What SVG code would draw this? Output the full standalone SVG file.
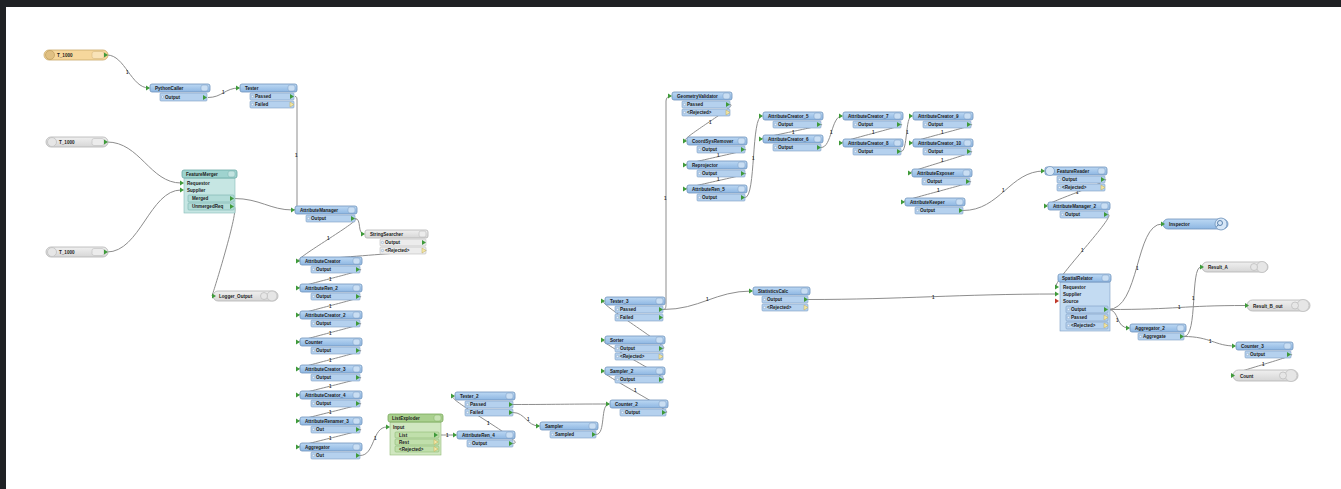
<svg xmlns="http://www.w3.org/2000/svg" width="1341" height="489" viewBox="0 0 1341 489">
<defs>
<linearGradient id="gb" x1="0" y1="0" x2="0" y2="1"><stop offset="0" stop-color="#bcd8f3"/><stop offset="1" stop-color="#8db6e2"/></linearGradient>
<linearGradient id="gg" x1="0" y1="0" x2="0" y2="1"><stop offset="0" stop-color="#f0f0f0"/><stop offset="1" stop-color="#d6d6d6"/></linearGradient>
<path id="pin" d="M0,-2.5 L4,0 L0,2.5 Z" fill="#3f9a3a"/>
<path id="piny" d="M0,-2.5 L4,0 L0,2.5 Z" fill="#f3e7a8" stroke="#c2ad55" stroke-width="0.5"/>
<path id="pinr" d="M0,-2.5 L4,0 L0,2.5 Z" fill="#c0392b"/>
</defs>
<style>
.hb{fill:url(#gb);stroke:#6f93bb;stroke-width:0.8}
.bt{fill:#c9def3;stroke:#7f9fc4;stroke-width:0.5}
.rb{fill:#b5d1ee;stroke:#7e9fc4;stroke-width:0.6}
.rm{fill:#e8f1fb;stroke:#6f8fb5;stroke-width:0.4}
.hg{fill:url(#gg);stroke:#b3b3b3;stroke-width:0.8}
.rg{fill:#ececec;stroke:#bdbdbd;stroke-width:0.6}
.ic{fill:#e6e6e6;stroke:#bfbfbf;stroke-width:0.8}
.t{font-family:"Liberation Sans",Arial,sans-serif;font-size:4.6px;font-weight:bold;fill:#1b1b1b}
.c{fill:none;stroke:#8d8d8d;stroke-width:1}
.lb{font-family:"Liberation Sans",Arial,sans-serif;font-size:4.5px;font-weight:bold;fill:#333}
</style>
<rect x="0" y="0" width="1341" height="489" fill="#ffffff"/>
<rect x="0" y="0" width="1341" height="7" fill="#1f2124"/>
<rect x="0" y="0" width="6" height="489" fill="#1f2124"/>

<g id="connectors">
<path class="c" d="M107,55 C125,55 131,88 149,88"/>
<path class="c" d="M208,97.5 C222,97.5 225,88 239,88"/>
<path class="c" d="M295,96.5 C297,96.5 297,98 297,101 L297,204 C297,208 295,210 293,210"/>
<path class="c" d="M107,142 C140,142 150,183 181,183"/>
<path class="c" d="M107,252 C140,252 150,190 181,190"/>
<path class="c" d="M234,198.5 C260,198.5 270,210 293,210"/>
<path class="c" d="M234,206.5 C240,207 214,290 212,296"/>
<path class="c" d="M355,218.5 C362,218.5 357,234 364,234"/>
<path class="c" d="M355,218.5 C365,218.5 290,261 299,261"/>
<path class="c" d="M426,250.5 C432,250.5 292,261 299,261"/>
<path class="c" d="M360,269.5 C370,269.5 290,288 299,288"/>
<path class="c" d="M360,296.5 C370,296.5 290,315 299,315"/>
<path class="c" d="M360,323.5 C370,323.5 290,342 299,342"/>
<path class="c" d="M360,350.5 C370,350.5 290,369 299,369"/>
<path class="c" d="M360,377.5 C370,377.5 290,395 299,395"/>
<path class="c" d="M360,403.5 C370,403.5 290,421 299,421"/>
<path class="c" d="M360,429.5 C370,429.5 290,447 299,447"/>
<path class="c" d="M360,455.5 C375,455.5 372,427 387,427"/>
<path class="c" d="M438,435 C447,435 447,435 456,435"/>
<path class="c" d="M513,404.5 C560,404.5 560,404 609,404"/>
<path class="c" d="M513,412.5 C525,412.5 527,426 539,426"/>
<path class="c" d="M513,443.5 C530,443.5 440,396 454,396"/>
<path class="c" d="M596,434.5 C606,434.5 600,404 609,404"/>
<path class="c" d="M666,412.5 C676,412.5 594,371 604,371"/>
<path class="c" d="M663,379.5 C673,379.5 594,340 604,340"/>
<path class="c" d="M663,348.5 C673,348.5 594,301 604,301"/>
<path class="c" d="M663,309.5 C666,309.5 666,307 666,303 L666,101 C666,98 668,96 671,96"/>
<path class="c" d="M663,309.5 C700,309.5 715,291 752,291"/>
<path class="c" d="M730,104.5 C740,104.5 676,141 686,141"/>
<path class="c" d="M745,149.5 C755,149.5 676,165 686,165"/>
<path class="c" d="M745,173.5 C755,173.5 676,189 686,189"/>
<path class="c" d="M745,197.5 C756,197.5 751,116 762,116"/>
<path class="c" d="M821,124.5 C831,124.5 752,139 762,139"/>
<path class="c" d="M821,147.5 C832,147.5 831,116 842,116"/>
<path class="c" d="M901,124.5 C911,124.5 832,143 842,143"/>
<path class="c" d="M901,151.5 C908,151.5 905,116 912,116"/>
<path class="c" d="M971,124.5 C981,124.5 902,143 912,143"/>
<path class="c" d="M971,151.5 C981,151.5 901,173 911,173"/>
<path class="c" d="M970,181.5 C980,181.5 894,202 904,202"/>
<path class="c" d="M963,210.5 C1000,210.5 1010,171 1044,171"/>
<path class="c" d="M1105,179.5 C1115,179.5 1037,206 1047,206"/>
<path class="c" d="M1108,214.5 C1118,214.5 1047,287 1057,287"/>
<path class="c" d="M808,299.5 C900,299.5 960,294 1057,294"/>
<path class="c" d="M1108,309.5 C1140,309.5 1135,224 1162,224"/>
<path class="c" d="M1108,309.5 C1180,309.5 1180,305.5 1246,305.5"/>
<path class="c" d="M1108,309.5 C1120,309.5 1115,328 1129,328"/>
<path class="c" d="M1184,336.5 C1198,336.5 1190,267 1201,267"/>
<path class="c" d="M1184,336.5 C1210,336.5 1215,346 1235,346"/>
<path class="c" d="M1291,354.5 C1301,354.5 1222,375.5 1232,375.5"/>
<text class="lb" x="126" y="74">1</text>
<text class="lb" x="222" y="94">1</text>
<text class="lb" x="295" y="157">1</text>
<text class="lb" x="327" y="240">1</text>
<text class="lb" x="329" y="281">1</text>
<text class="lb" x="329" y="308">1</text>
<text class="lb" x="329" y="335">1</text>
<text class="lb" x="329" y="362">1</text>
<text class="lb" x="329" y="388">1</text>
<text class="lb" x="329" y="414">1</text>
<text class="lb" x="329" y="440">1</text>
<text class="lb" x="374" y="440">1</text>
<text class="lb" x="446" y="437">1</text>
<text class="lb" x="487" y="425">1</text>
<text class="lb" x="527" y="421">1</text>
<text class="lb" x="634" y="360">1</text>
<text class="lb" x="634" y="392">1</text>
<text class="lb" x="664" y="200">1</text>
<text class="lb" x="706" y="301">1</text>
<text class="lb" x="709" y="124">1</text>
<text class="lb" x="717" y="157">1</text>
<text class="lb" x="717" y="181">1</text>
<text class="lb" x="752" y="160">1</text>
<text class="lb" x="792" y="134">1</text>
<text class="lb" x="830" y="134">1</text>
<text class="lb" x="872" y="134">1</text>
<text class="lb" x="906" y="134">1</text>
<text class="lb" x="941" y="134">1</text>
<text class="lb" x="941" y="162">1</text>
<text class="lb" x="937" y="192">1</text>
<text class="lb" x="1002" y="192">1</text>
<text class="lb" x="1076" y="194">1</text>
<text class="lb" x="1081" y="252">1</text>
<text class="lb" x="932" y="299">1</text>
<text class="lb" x="1136" y="270">1</text>
<text class="lb" x="1178" y="309">1</text>
<text class="lb" x="1116" y="322">1</text>
<text class="lb" x="1192" y="300">1</text>
<text class="lb" x="1209" y="343">1</text>
<text class="lb" x="1262" y="366">1</text>
</g>

<g id="reader-0">
<rect x="44" y="50" width="64" height="10" rx="5" fill="#f6d79c" stroke="#c9a86a" stroke-width="0.8"/>
<rect x="92" y="51.5" width="12" height="7" rx="2" fill="#f9e3b8" stroke="#d0b37a" stroke-width="0.5"/>
<circle cx="50" cy="55" r="4.5" fill="#e0c083" stroke="#b59556" stroke-width="0.6"/>
<text class="t" x="57" y="57">T_1000</text>
<use href="#pin" x="104" y="55"/>
</g>
<g id="reader-1">
<rect x="46" y="137" width="62" height="10" rx="5" class="hg"/>
<rect x="92" y="138.5" width="12" height="7" rx="2" class="rg"/>
<circle cx="52" cy="142" r="4.5" class="ic"/>
<text class="t" x="59" y="144">T_1000</text>
<use href="#pin" x="104" y="142"/>
</g>
<g id="reader-2">
<rect x="46" y="247" width="62" height="10" rx="5" class="hg"/>
<rect x="92" y="248.5" width="12" height="7" rx="2" class="rg"/>
<circle cx="52" cy="252" r="4.5" class="ic"/>
<text class="t" x="59" y="254">T_1000</text>
<use href="#pin" x="104" y="252"/>
</g>

<g id="n-pythoncaller">
<rect class="hb" x="150" y="84" width="60" height="8" rx="2"/><rect class="bt" x="201" y="85" width="7" height="6" rx="2"/>
<use href="#pin" x="146" y="88"/><text class="t" x="155" y="89.8">PythonCaller</text>
<rect class="rb" x="160" y="93" width="47" height="8" rx="1"/><circle class="rm" cx="162.5" cy="97" r="1.2"/><text class="t" x="165" y="98.8">Output</text><use href="#pin" x="203" y="97.5"/>
</g>
<g id="n-tester-1">
<rect class="hb" x="240" y="84" width="57" height="8" rx="2"/><rect class="bt" x="288" y="85" width="7" height="6" rx="2"/>
<use href="#pin" x="236" y="88"/><text class="t" x="245" y="89.8">Tester</text>
<rect class="rb" x="250" y="93" width="44" height="7" rx="1"/><circle class="rm" cx="252.5" cy="96.5" r="1.2"/><text class="t" x="255" y="98.3">Passed</text><use href="#pin" x="290" y="96.5"/>
<rect class="rb" x="250" y="101" width="44" height="7" rx="1"/><circle class="rm" cx="252.5" cy="104.5" r="1.2"/><text class="t" x="255" y="106.3">Failed</text><use href="#piny" x="290" y="104.5"/>
</g>

<g id="n-featuremerger">
<rect x="184" y="178" width="51" height="35" fill="#c6e6e3" stroke="#86bdb8" stroke-width="0.6"/>
<rect x="182" y="170" width="55" height="8" rx="2" fill="#9fd3cf" stroke="#6aa9a5" stroke-width="0.8"/><rect x="228" y="171" width="7" height="6" rx="2" fill="#c2e4e1" stroke="#7bb3ae" stroke-width="0.5"/>
<text class="t" x="186" y="175.8">FeatureMerger</text>
<use href="#pin" x="180" y="183"/><text class="t" x="187" y="185">Requestor</text>
<use href="#pin" x="180" y="190"/><text class="t" x="187" y="192">Supplier</text>
<rect x="188" y="195" width="46" height="7" rx="1" fill="#b2dcd8" stroke="#7bb3ae" stroke-width="0.6"/><text class="t" x="192" y="200.3">Merged</text><use href="#pin" x="230" y="198.5"/>
<rect x="188" y="203" width="46" height="7" rx="1" fill="#b2dcd8" stroke="#7bb3ae" stroke-width="0.6"/><text class="t" x="192" y="208.3">UnmergedReq</text><use href="#pin" x="230" y="206.5"/>
</g>

<g id="writer-logger">
<rect x="213" y="291" width="65" height="10" rx="5" class="hg"/>
<circle cx="272" cy="296" r="5" class="ic"/><circle cx="264" cy="296" r="3.5" class="ic"/>
<use href="#pin" x="212" y="296"/><text class="t" x="219" y="298">Logger_Output</text>
</g>

<g id="n-a0">
<rect class="hb" x="295" y="206" width="62" height="8" rx="2"/><rect class="bt" x="348" y="207" width="7" height="6" rx="2"/>
<use href="#pin" x="291" y="210"/><text class="t" x="300" y="211.8">AttributeManager</text>
<rect class="rb" x="306" y="215" width="49" height="7" rx="1"/><circle class="rm" cx="308.5" cy="218.5" r="1.2"/><text class="t" x="311" y="220.3">Output</text><use href="#pin" x="351" y="218.5"/>
</g>
<g id="n-g1">
<rect x="365" y="230" width="63" height="8" rx="2" class="hg"/><rect x="419" y="231" width="7" height="6" rx="2" class="rg"/>
<use href="#pin" x="361" y="234"/><text class="t" x="370" y="235.8">StringSearcher</text>
<rect class="rg" x="380" y="239" width="46" height="7" rx="1"/><circle class="rm" cx="382.5" cy="242.5" r="1.2"/><text class="t" x="385" y="244.3">Output</text><use href="#pin" x="422" y="242.5"/>
<rect class="rg" x="380" y="247" width="46" height="7" rx="1"/><circle class="rm" cx="382.5" cy="250.5" r="1.2"/><text class="t" x="385" y="252.3">&lt;Rejected&gt;</text><use href="#piny" x="422" y="250.5"/>
</g>
<g id="n-a1">
<rect class="hb" x="300" y="257" width="62" height="8" rx="2"/><rect class="bt" x="353" y="258" width="7" height="6" rx="2"/>
<use href="#pin" x="296" y="261"/><text class="t" x="305" y="262.8">AttributeCreator</text>
<rect class="rb" x="311" y="266" width="49" height="7" rx="1"/><circle class="rm" cx="313.5" cy="269.5" r="1.2"/><text class="t" x="316" y="271.3">Output</text><use href="#pin" x="356" y="269.5"/>
</g>
<g id="n-a2">
<rect class="hb" x="300" y="284" width="62" height="8" rx="2"/><rect class="bt" x="353" y="285" width="7" height="6" rx="2"/>
<use href="#pin" x="296" y="288"/><text class="t" x="305" y="289.8">AttributeRen_2</text>
<rect class="rb" x="311" y="293" width="49" height="7" rx="1"/><circle class="rm" cx="313.5" cy="296.5" r="1.2"/><text class="t" x="316" y="298.3">Output</text><use href="#pin" x="356" y="296.5"/>
</g>
<g id="n-a3">
<rect class="hb" x="300" y="311" width="62" height="8" rx="2"/><rect class="bt" x="353" y="312" width="7" height="6" rx="2"/>
<use href="#pin" x="296" y="315"/><text class="t" x="305" y="316.8">AttributeCreator_2</text>
<rect class="rb" x="311" y="320" width="49" height="7" rx="1"/><circle class="rm" cx="313.5" cy="323.5" r="1.2"/><text class="t" x="316" y="325.3">Output</text><use href="#pin" x="356" y="323.5"/>
</g>
<g id="n-a4">
<rect class="hb" x="300" y="338" width="62" height="8" rx="2"/><rect class="bt" x="353" y="339" width="7" height="6" rx="2"/>
<use href="#pin" x="296" y="342"/><text class="t" x="305" y="343.8">Counter</text>
<rect class="rb" x="311" y="347" width="49" height="7" rx="1"/><circle class="rm" cx="313.5" cy="350.5" r="1.2"/><text class="t" x="316" y="352.3">Output</text><use href="#pin" x="356" y="350.5"/>
</g>
<g id="n-a5">
<rect class="hb" x="300" y="365" width="62" height="8" rx="2"/><rect class="bt" x="353" y="366" width="7" height="6" rx="2"/>
<use href="#pin" x="296" y="369"/><text class="t" x="305" y="370.8">AttributeCreator_3</text>
<rect class="rb" x="311" y="374" width="49" height="7" rx="1"/><circle class="rm" cx="313.5" cy="377.5" r="1.2"/><text class="t" x="316" y="379.3">Output</text><use href="#pin" x="356" y="377.5"/>
</g>
<g id="n-a6">
<rect class="hb" x="300" y="391" width="62" height="8" rx="2"/><rect class="bt" x="353" y="392" width="7" height="6" rx="2"/>
<use href="#pin" x="296" y="395"/><text class="t" x="305" y="396.8">AttributeCreator_4</text>
<rect class="rb" x="311" y="400" width="49" height="7" rx="1"/><circle class="rm" cx="313.5" cy="403.5" r="1.2"/><text class="t" x="316" y="405.3">Output</text><use href="#pin" x="356" y="403.5"/>
</g>
<g id="n-a7">
<rect class="hb" x="300" y="417" width="62" height="8" rx="2"/><rect class="bt" x="353" y="418" width="7" height="6" rx="2"/>
<use href="#pin" x="296" y="421"/><text class="t" x="305" y="422.8">AttributeRenamer_3</text>
<rect class="rb" x="311" y="426" width="49" height="7" rx="1"/><circle class="rm" cx="313.5" cy="429.5" r="1.2"/><text class="t" x="316" y="431.3">Out</text><use href="#pin" x="356" y="429.5"/>
</g>
<g id="n-a8">
<rect class="hb" x="300" y="443" width="62" height="8" rx="2"/><rect class="bt" x="353" y="444" width="7" height="6" rx="2"/>
<use href="#pin" x="296" y="447"/><text class="t" x="305" y="448.8">Aggregator</text>
<rect class="rb" x="311" y="452" width="49" height="7" rx="1"/><circle class="rm" cx="313.5" cy="455.5" r="1.2"/><text class="t" x="316" y="457.3">Out</text><use href="#pin" x="356" y="455.5"/>
</g>

<g id="n-green">
<rect x="390" y="422" width="51" height="33" fill="#d0e7c0" stroke="#93bd78" stroke-width="0.6"/>
<rect x="388" y="414" width="55" height="8" rx="2" fill="#a9d08e" stroke="#78a85c" stroke-width="0.8"/><rect x="434" y="415" width="7" height="6" rx="2" fill="#c6e2b3" stroke="#86b36a" stroke-width="0.5"/>
<text class="t" x="392" y="419.8">ListExploder</text>
<use href="#pin" x="386" y="427"/><text class="t" x="393" y="429">Input</text>
<rect x="395" y="432" width="44" height="6" rx="1" fill="#c0dfab" stroke="#86b36a" stroke-width="0.5"/><text class="t" x="399" y="436.8">List</text><use href="#pin" x="434" y="435"/>
<rect x="395" y="439" width="44" height="6" rx="1" fill="#c0dfab" stroke="#86b36a" stroke-width="0.5"/><text class="t" x="399" y="443.8">Rest</text><use href="#piny" x="434" y="442"/>
<rect x="395" y="446" width="44" height="6" rx="1" fill="#c0dfab" stroke="#86b36a" stroke-width="0.5"/><text class="t" x="399" y="450.8">&lt;Rejected&gt;</text><use href="#piny" x="434" y="449"/>
</g>

<g id="n-tester-2">
<rect class="hb" x="455" y="392" width="60" height="8" rx="2"/><rect class="bt" x="506" y="393" width="7" height="6" rx="2"/>
<use href="#pin" x="451" y="396"/><text class="t" x="460" y="397.8">Tester_2</text>
<rect class="rb" x="465" y="401" width="48" height="7" rx="1"/><circle class="rm" cx="467.5" cy="404.5" r="1.2"/><text class="t" x="470" y="406.3">Passed</text><use href="#pin" x="509" y="404.5"/>
<rect class="rb" x="465" y="409" width="48" height="7" rx="1"/><circle class="rm" cx="467.5" cy="412.5" r="1.2"/><text class="t" x="470" y="414.3">Failed</text><use href="#pin" x="509" y="412.5"/>
</g>
<g id="n-457">
<rect class="hb" x="457" y="431" width="58" height="8" rx="2"/><rect class="bt" x="506" y="432" width="7" height="6" rx="2"/>
<use href="#pin" x="453" y="435"/><text class="t" x="462" y="436.8">AttributeRen_4</text>
<rect class="rb" x="467" y="440" width="46" height="7" rx="1"/><circle class="rm" cx="469.5" cy="443.5" r="1.2"/><text class="t" x="472" y="445.3">Output</text><use href="#pin" x="509" y="443.5"/>
</g>
<g id="n-540">
<rect class="hb" x="540" y="422" width="58" height="8" rx="2"/><rect class="bt" x="589" y="423" width="7" height="6" rx="2"/>
<use href="#pin" x="536" y="426"/><text class="t" x="545" y="427.8">Sampler</text>
<rect class="rb" x="550" y="431" width="46" height="7" rx="1"/><circle class="rm" cx="552.5" cy="434.5" r="1.2"/><text class="t" x="555" y="436.3">Sampled</text><use href="#pin" x="592" y="434.5"/>
</g>

<g id="n-b0">
<rect class="hb" x="605" y="297" width="60" height="8" rx="2"/><rect class="bt" x="656" y="298" width="7" height="6" rx="2"/>
<use href="#pin" x="601" y="301"/><text class="t" x="610" y="302.8">Tester_3</text>
<rect class="rb" x="615" y="306" width="48" height="7" rx="1"/><circle class="rm" cx="617.5" cy="309.5" r="1.2"/><text class="t" x="620" y="311.3">Passed</text><use href="#pin" x="659" y="309.5"/>
<rect class="rb" x="615" y="314" width="48" height="7" rx="1"/><circle class="rm" cx="617.5" cy="317.5" r="1.2"/><text class="t" x="620" y="319.3">Failed</text><use href="#pin" x="659" y="317.5"/>
</g>
<g id="n-b1">
<rect class="hb" x="605" y="336" width="60" height="8" rx="2"/><rect class="bt" x="656" y="337" width="7" height="6" rx="2"/>
<use href="#pin" x="601" y="340"/><text class="t" x="610" y="341.8">Sorter</text>
<rect class="rb" x="615" y="345" width="48" height="7" rx="1"/><circle class="rm" cx="617.5" cy="348.5" r="1.2"/><text class="t" x="620" y="350.3">Output</text><use href="#pin" x="659" y="348.5"/>
<rect class="rb" x="615" y="353" width="48" height="7" rx="1"/><circle class="rm" cx="617.5" cy="356.5" r="1.2"/><text class="t" x="620" y="358.3">&lt;Rejected&gt;</text><use href="#piny" x="659" y="356.5"/>
</g>
<g id="n-b2">
<rect class="hb" x="605" y="367" width="60" height="8" rx="2"/><rect class="bt" x="656" y="368" width="7" height="6" rx="2"/>
<use href="#pin" x="601" y="371"/><text class="t" x="610" y="372.8">Sampler_2</text>
<rect class="rb" x="615" y="376" width="48" height="7" rx="1"/><circle class="rm" cx="617.5" cy="379.5" r="1.2"/><text class="t" x="620" y="381.3">Output</text><use href="#pin" x="659" y="379.5"/>
</g>
<g id="n-b3">
<rect class="hb" x="610" y="400" width="58" height="8" rx="2"/><rect class="bt" x="659" y="401" width="7" height="6" rx="2"/>
<use href="#pin" x="606" y="404"/><text class="t" x="615" y="405.8">Counter_2</text>
<rect class="rb" x="620" y="409" width="46" height="7" rx="1"/><circle class="rm" cx="622.5" cy="412.5" r="1.2"/><text class="t" x="625" y="414.3">Output</text><use href="#pin" x="662" y="412.5"/>
</g>

<g id="n-753">
<rect class="hb" x="753" y="287" width="57" height="8" rx="2"/><rect class="bt" x="801" y="288" width="7" height="6" rx="2"/>
<use href="#pin" x="749" y="291"/><text class="t" x="758" y="292.8">StatisticsCalc</text>
<rect class="rb" x="762" y="296" width="46" height="7" rx="1"/><circle class="rm" cx="764.5" cy="299.5" r="1.2"/><text class="t" x="767" y="301.3">Output</text><use href="#pin" x="804" y="299.5"/>
<rect class="rb" x="762" y="304" width="46" height="7" rx="1"/><circle class="rm" cx="764.5" cy="307.5" r="1.2"/><text class="t" x="767" y="309.3">&lt;Rejected&gt;</text><use href="#piny" x="804" y="307.5"/>
</g>

<g id="n-c0">
<rect class="hb" x="672" y="92" width="60" height="8" rx="2"/><rect class="bt" x="723" y="93" width="7" height="6" rx="2"/>
<use href="#pin" x="668" y="96"/><text class="t" x="677" y="97.8">GeometryValidator</text>
<rect class="rb" x="682" y="101" width="48" height="7" rx="1"/><circle class="rm" cx="684.5" cy="104.5" r="1.2"/><text class="t" x="687" y="106.3">Passed</text><use href="#pin" x="726" y="104.5"/>
<rect class="rb" x="682" y="109" width="48" height="7" rx="1"/><circle class="rm" cx="684.5" cy="112.5" r="1.2"/><text class="t" x="687" y="114.3">&lt;Rejected&gt;</text><use href="#piny" x="726" y="112.5"/>
</g>
<g id="n-c1">
<rect class="hb" x="687" y="137" width="60" height="8" rx="2"/><rect class="bt" x="738" y="138" width="7" height="6" rx="2"/>
<use href="#pin" x="683" y="141"/><text class="t" x="692" y="142.8">CoordSysRemover</text>
<rect class="rb" x="697" y="146" width="48" height="7" rx="1"/><circle class="rm" cx="699.5" cy="149.5" r="1.2"/><text class="t" x="702" y="151.3">Output</text><use href="#pin" x="741" y="149.5"/>
</g>
<g id="n-c2">
<rect class="hb" x="687" y="161" width="60" height="8" rx="2"/><rect class="bt" x="738" y="162" width="7" height="6" rx="2"/>
<use href="#pin" x="683" y="165"/><text class="t" x="692" y="166.8">Reprojector</text>
<rect class="rb" x="697" y="170" width="48" height="7" rx="1"/><circle class="rm" cx="699.5" cy="173.5" r="1.2"/><text class="t" x="702" y="175.3">Output</text><use href="#pin" x="741" y="173.5"/>
</g>
<g id="n-c3">
<rect class="hb" x="687" y="185" width="60" height="8" rx="2"/><rect class="bt" x="738" y="186" width="7" height="6" rx="2"/>
<use href="#pin" x="683" y="189"/><text class="t" x="692" y="190.8">AttributeRen_5</text>
<rect class="rb" x="697" y="194" width="48" height="7" rx="1"/><circle class="rm" cx="699.5" cy="197.5" r="1.2"/><text class="t" x="702" y="199.3">Output</text><use href="#pin" x="741" y="197.5"/>
</g>
<g id="n-d0">
<rect class="hb" x="763" y="112" width="60" height="8" rx="2"/><rect class="bt" x="814" y="113" width="7" height="6" rx="2"/>
<use href="#pin" x="759" y="116"/><text class="t" x="768" y="117.8">AttributeCreator_5</text>
<rect class="rb" x="773" y="121" width="48" height="7" rx="1"/><circle class="rm" cx="775.5" cy="124.5" r="1.2"/><text class="t" x="778" y="126.3">Output</text><use href="#pin" x="817" y="124.5"/>
</g>
<g id="n-d1">
<rect class="hb" x="763" y="135" width="60" height="8" rx="2"/><rect class="bt" x="814" y="136" width="7" height="6" rx="2"/>
<use href="#pin" x="759" y="139"/><text class="t" x="768" y="140.8">AttributeCreator_6</text>
<rect class="rb" x="773" y="144" width="48" height="7" rx="1"/><circle class="rm" cx="775.5" cy="147.5" r="1.2"/><text class="t" x="778" y="149.3">Output</text><use href="#pin" x="817" y="147.5"/>
</g>
<g id="n-e0">
<rect class="hb" x="843" y="112" width="60" height="8" rx="2"/><rect class="bt" x="894" y="113" width="7" height="6" rx="2"/>
<use href="#pin" x="839" y="116"/><text class="t" x="848" y="117.8">AttributeCreator_7</text>
<rect class="rb" x="853" y="121" width="48" height="7" rx="1"/><circle class="rm" cx="855.5" cy="124.5" r="1.2"/><text class="t" x="858" y="126.3">Output</text><use href="#pin" x="897" y="124.5"/>
</g>
<g id="n-e1">
<rect class="hb" x="843" y="139" width="60" height="8" rx="2"/><rect class="bt" x="894" y="140" width="7" height="6" rx="2"/>
<use href="#pin" x="839" y="143"/><text class="t" x="848" y="144.8">AttributeCreator_8</text>
<rect class="rb" x="853" y="148" width="48" height="7" rx="1"/><circle class="rm" cx="855.5" cy="151.5" r="1.2"/><text class="t" x="858" y="153.3">Output</text><use href="#pin" x="897" y="151.5"/>
</g>
<g id="n-f0">
<rect class="hb" x="913" y="112" width="60" height="8" rx="2"/><rect class="bt" x="964" y="113" width="7" height="6" rx="2"/>
<use href="#pin" x="909" y="116"/><text class="t" x="918" y="117.8">AttributeCreator_9</text>
<rect class="rb" x="923" y="121" width="48" height="7" rx="1"/><circle class="rm" cx="925.5" cy="124.5" r="1.2"/><text class="t" x="928" y="126.3">Output</text><use href="#pin" x="967" y="124.5"/>
</g>
<g id="n-f1">
<rect class="hb" x="913" y="139" width="60" height="8" rx="2"/><rect class="bt" x="964" y="140" width="7" height="6" rx="2"/>
<use href="#pin" x="909" y="143"/><text class="t" x="918" y="144.8">AttributeCreator_10</text>
<rect class="rb" x="923" y="148" width="48" height="7" rx="1"/><circle class="rm" cx="925.5" cy="151.5" r="1.2"/><text class="t" x="928" y="153.3">Output</text><use href="#pin" x="967" y="151.5"/>
</g>
<g id="n-f2">
<rect class="hb" x="912" y="169" width="60" height="8" rx="2"/><rect class="bt" x="963" y="170" width="7" height="6" rx="2"/>
<use href="#pin" x="908" y="173"/><text class="t" x="917" y="174.8">AttributeExposer</text>
<rect class="rb" x="922" y="178" width="48" height="7" rx="1"/><circle class="rm" cx="924.5" cy="181.5" r="1.2"/><text class="t" x="927" y="183.3">Output</text><use href="#pin" x="966" y="181.5"/>
</g>
<g id="n-f3">
<rect class="hb" x="905" y="198" width="60" height="8" rx="2"/><rect class="bt" x="956" y="199" width="7" height="6" rx="2"/>
<use href="#pin" x="901" y="202"/><text class="t" x="910" y="203.8">AttributeKeeper</text>
<rect class="rb" x="915" y="207" width="48" height="7" rx="1"/><circle class="rm" cx="917.5" cy="210.5" r="1.2"/><text class="t" x="920" y="212.3">Output</text><use href="#pin" x="959" y="210.5"/>
</g>

<g id="n-h0">
<rect class="hb" x="1045" y="167" width="62" height="8" rx="2"/><rect class="bt" x="1098" y="168" width="7" height="6" rx="2"/>
<circle cx="1050" cy="171" r="4.5" fill="#d7e7f7" stroke="#6f93bb" stroke-width="0.7"/>
<use href="#pin" x="1041" y="171"/><text class="t" x="1057" y="172.8">FeatureReader</text>
<rect class="rb" x="1057" y="176" width="48" height="7" rx="1"/><circle class="rm" cx="1059.5" cy="179.5" r="1.2"/><text class="t" x="1062" y="181.3">Output</text><use href="#pin" x="1101" y="179.5"/>
<rect class="rb" x="1057" y="184" width="48" height="7" rx="1"/><circle class="rm" cx="1059.5" cy="187.5" r="1.2"/><text class="t" x="1062" y="189.3">&lt;Rejected&gt;</text><use href="#piny" x="1101" y="187.5"/>
</g>
<g id="n-h1">
<rect class="hb" x="1048" y="202" width="62" height="8" rx="2"/><rect class="bt" x="1101" y="203" width="7" height="6" rx="2"/>
<use href="#pin" x="1044" y="206"/><text class="t" x="1053" y="207.8">AttributeManager_2</text>
<rect class="rb" x="1060" y="211" width="48" height="7" rx="1"/><circle class="rm" cx="1062.5" cy="214.5" r="1.2"/><text class="t" x="1065" y="216.3">Output</text><use href="#pin" x="1104" y="214.5"/>
</g>

<g id="n-big">
<rect x="1060" y="282" width="50" height="49" fill="#c3dbf2" stroke="#7e9fc4" stroke-width="0.6"/>
<rect class="hb" x="1058" y="274" width="53" height="8" rx="2"/><rect class="bt" x="1102" y="275" width="7" height="6" rx="2"/>
<text class="t" x="1062" y="279.8">SpatialRelator</text>
<use href="#pin" x="1055" y="287"/><text class="t" x="1063" y="289">Requestor</text>
<use href="#pin" x="1055" y="294"/><text class="t" x="1063" y="296">Supplier</text>
<use href="#pinr" x="1055" y="301"/><text class="t" x="1063" y="303">Source</text>
<rect class="rb" x="1066" y="306" width="42" height="7" rx="1"/><circle class="rm" cx="1068.5" cy="309.5" r="1.2"/><text class="t" x="1071" y="311.3">Output</text><use href="#pin" x="1104" y="309.5"/>
<rect class="rb" x="1066" y="314" width="42" height="7" rx="1"/><circle class="rm" cx="1068.5" cy="317.5" r="1.2"/><text class="t" x="1071" y="319.3">Passed</text><use href="#piny" x="1104" y="317.5"/>
<rect class="rb" x="1066" y="322" width="42" height="7" rx="1"/><circle class="rm" cx="1068.5" cy="325.5" r="1.2"/><text class="t" x="1071" y="327.3">&lt;Rejected&gt;</text><use href="#piny" x="1104" y="325.5"/>
</g>

<g id="n-k0">
<rect class="hb" x="1130" y="324" width="56" height="8" rx="2"/><rect class="bt" x="1177" y="325" width="7" height="6" rx="2"/>
<use href="#pin" x="1126" y="328"/><text class="t" x="1135" y="329.8">Aggregator_2</text>
<rect class="rb" x="1138" y="333" width="46" height="7" rx="1"/><circle class="rm" cx="1140.5" cy="336.5" r="1.2"/><text class="t" x="1143" y="338.3">Aggregate</text><use href="#pin" x="1180" y="336.5"/>
</g>
<g id="n-k1">
<rect class="hb" x="1236" y="342" width="57" height="8" rx="2"/><rect class="bt" x="1284" y="343" width="7" height="6" rx="2"/>
<use href="#pin" x="1232" y="346"/><text class="t" x="1241" y="347.8">Counter_3</text>
<rect class="rb" x="1245" y="351" width="46" height="7" rx="1"/><circle class="rm" cx="1247.5" cy="354.5" r="1.2"/><text class="t" x="1250" y="356.3">Output</text><use href="#pin" x="1287" y="354.5"/>
</g>

<g id="inspector">
<rect class="hb" x="1163" y="219" width="65" height="10" rx="5"/>
<circle cx="1221" cy="224" r="6" fill="#d7e7f7" stroke="#6f93bb" stroke-width="0.8"/><circle cx="1220" cy="223" r="2.5" fill="none" stroke="#3d6b9c" stroke-width="0.8"/><path d="M1218.3,224.8 L1216.5,226.8" stroke="#3d6b9c" stroke-width="0.9"/>
<use href="#pin" x="1161" y="224"/><text class="t" x="1169" y="226">Inspector</text>
</g>
<g id="writer-1">
<rect x="1202" y="262" width="66" height="10" rx="5" class="hg"/>
<circle cx="1262" cy="267" r="5.5" class="ic"/><circle cx="1254" cy="267" r="3.5" class="ic"/>
<use href="#pin" x="1200" y="267"/><text class="t" x="1208" y="269">Result_A</text>
</g>
<g id="writer-2">
<rect x="1247" y="300" width="63" height="11" rx="5.5" class="hg"/>
<circle cx="1303" cy="305.5" r="6" class="ic"/><circle cx="1295" cy="305.5" r="3.5" class="ic"/>
<use href="#pin" x="1245" y="305.5"/><text class="t" x="1253" y="307.5">Result_B_out</text>
</g>
<g id="writer-3">
<rect x="1233" y="370" width="65" height="11" rx="5.5" class="hg"/>
<circle cx="1291" cy="375.5" r="6" class="ic"/><circle cx="1283" cy="375.5" r="3.5" class="ic"/>
<use href="#pin" x="1231" y="375.5"/><text class="t" x="1240" y="377.5">Count</text>
</g>
</svg>
